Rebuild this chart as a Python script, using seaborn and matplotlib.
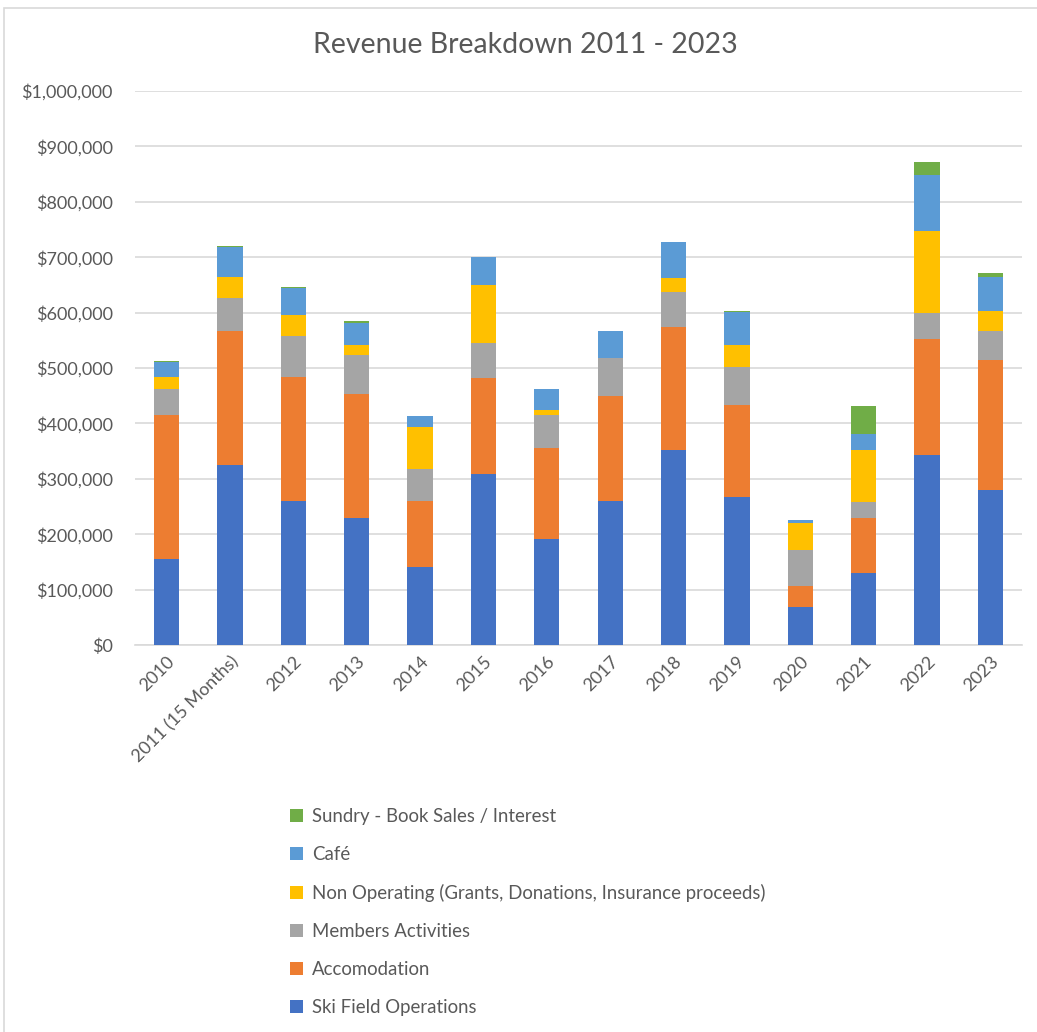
import matplotlib
matplotlib.use("Agg")
import matplotlib.pyplot as plt
import seaborn as sns
import numpy as np
import pandas as pd
from matplotlib.patches import Patch, Rectangle
from matplotlib.ticker import FuncFormatter, MultipleLocator

years = ["2010", "2011 (15 Months)", "2012", "2013", "2014", "2015", "2016",
         "2017", "2018", "2019", "2020", "2021", "2022", "2023"]

ski_field = [155000, 325000, 260000, 229000, 141000, 309000, 191000,
             260000, 352000, 268000, 69000, 130000, 343000, 280000]
accomodation = [260000, 242000, 224000, 224000, 119000, 173000, 165000,
                189000, 222000, 165000, 37500, 100000, 210000, 234000]
members = [47000, 59000, 73000, 71000, 57000, 63000, 59000,
           69000, 64000, 68000, 65000, 28000, 46000, 53000]
non_operating = [22000, 39000, 39000, 17000, 77000, 105000, 10000,
                 0, 25000, 41000, 49500, 94000, 148000, 36000]
cafe = [26000, 54000, 48000, 41000, 19000, 50000, 37000,
        49000, 65000, 59000, 4000, 29000, 101000, 62000]
sundry = [3000, 2000, 2000, 2000, 0, 0, 0,
          0, 0, 2000, 0, 51000, 23000, 6500]

series_names = ["Ski Field Operations", "Accomodation", "Members Activities",
                "Non Operating (Grants, Donations, Insurance proceeds)",
                "Café", "Sundry - Book Sales / Interest"]
series_values = [ski_field, accomodation, members, non_operating, cafe, sundry]
colors = ["#4472C4", "#ED7D31", "#A5A5A5", "#FFC000", "#5B9BD5", "#70AD47"]

text_color = "#595959"
plt.rcParams['font.family'] = ['Lato', 'DejaVu Sans']

fig = plt.figure(figsize=(10.37, 10.32), dpi=100)
ax = fig.add_axes([135/1037, 1-645/1032, (1022-135)/1037, (645-91)/1032])

cum = np.cumsum(np.array(series_values, dtype=float), axis=0)
# draw from the top-most cumulative total downwards so lower segments overlay
for i in range(len(series_names) - 1, -1, -1):
    df = pd.DataFrame({"year": years, "value": cum[i]})
    sns.barplot(data=df, x="year", y="value", order=years, color=colors[i],
                width=0.4, saturation=1, ax=ax, zorder=3, linewidth=0)

ax.set_xlim(-0.5, len(years) - 0.5)
ax.set_ylim(0, 1000000)
ax.yaxis.set_major_locator(MultipleLocator(100000))
ax.yaxis.set_major_formatter(FuncFormatter(lambda v, p: f"${v:,.0f}"))
ax.grid(axis="y", color="#D9D9D9", linewidth=1.2, zorder=0)
ax.grid(axis="x", visible=False)
ax.set_axisbelow(True)
for s in ["top", "right", "left"]:
    ax.spines[s].set_visible(False)
ax.spines["bottom"].set_color("#D9D9D9")
ax.spines["bottom"].set_linewidth(1.2)
ax.tick_params(axis="both", length=0, colors=text_color, labelsize=13)
ax.tick_params(axis="y", pad=16)
ax.tick_params(axis="x", pad=6)
ax.set_xlabel("")
ax.set_ylabel("")
for lab in ax.get_xticklabels():
    lab.set_rotation(45)
    lab.set_ha("right")
    lab.set_rotation_mode("anchor")

fig.text(525/1037, 1-45/1032, "Revenue Breakdown 2011 - 2023", ha="center",
         va="center", fontsize=20.5, color=text_color)

handles = [Patch(facecolor=colors[i], edgecolor="none", label=series_names[i])
           for i in range(len(series_names) - 1, -1, -1)]
fig.legend(handles=handles, loc="upper left",
           bbox_to_anchor=(283/1037, 1-801/1032), frameon=False,
           fontsize=13.4, labelcolor=text_color, handlelength=0.7,
           handleheight=0.7, handletextpad=0.45, labelspacing=1.12,
           borderaxespad=0)

fig.patches.append(Rectangle((4/1037, -0.05), 1.1, 1.05 - 8/1032 + 0.0,
                             transform=fig.transFigure, fill=False,
                             edgecolor="#D9D9D9", linewidth=1.2))

fig.savefig("out.png", dpi=100, facecolor="white")
